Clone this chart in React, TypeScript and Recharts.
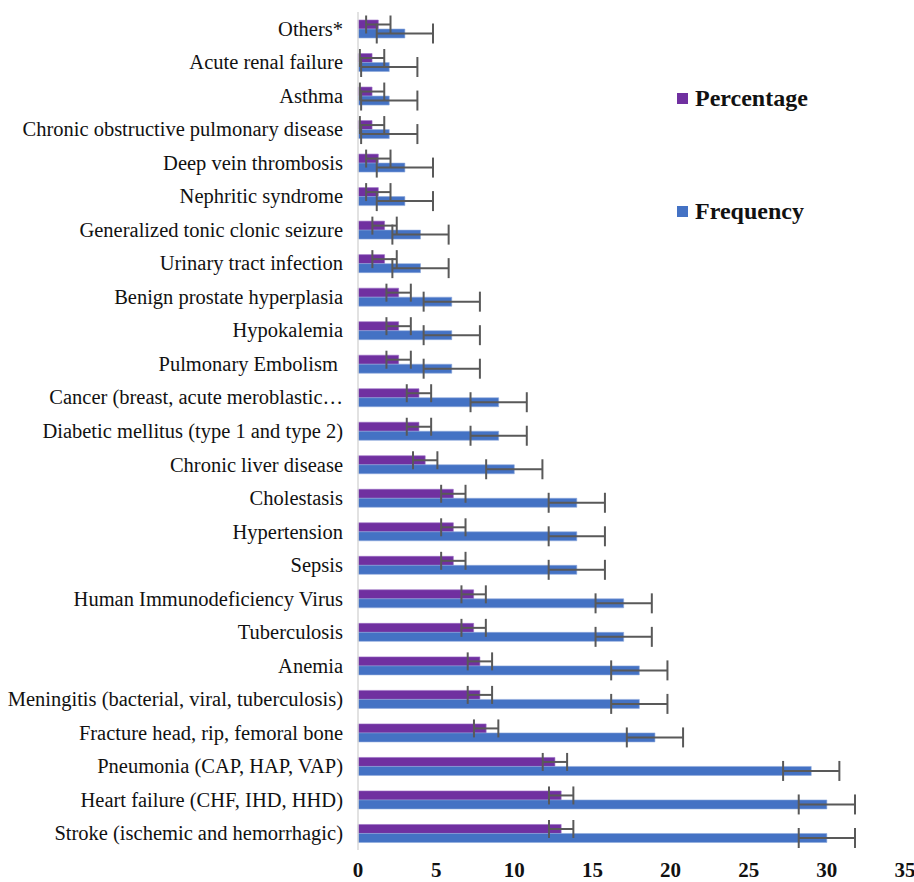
import React from 'react';
import { BarChart, Bar, XAxis, YAxis, ErrorBar, Legend } from 'recharts';

const CATEGORIES = [
  'Others*',
  'Acute renal failure',
  'Asthma',
  'Chronic obstructive pulmonary disease',
  'Deep vein thrombosis',
  'Nephritic syndrome',
  'Generalized tonic clonic seizure',
  'Urinary tract infection',
  'Benign prostate hyperplasia',
  'Hypokalemia',
  'Pulmonary Embolism\u00a0',
  'Cancer (breast, acute meroblastic\u2026',
  'Diabetic mellitus (type 1 and type 2)',
  'Chronic liver disease',
  'Cholestasis',
  'Hypertension',
  'Sepsis',
  'Human Immunodeficiency Virus',
  'Tuberculosis',
  'Anemia',
  'Meningitis (bacterial, viral, tuberculosis)',
  'Fracture head, rip, femoral bone',
  'Pneumonia (CAP, HAP, VAP)',
  'Heart failure (CHF, IHD, HHD)',
  'Stroke (ischemic and hemorrhagic)',
];

const PERCENTAGE = [1.3, 0.9, 0.9, 0.9, 1.3, 1.3, 1.7, 1.7, 2.6, 2.6, 2.6, 3.9, 3.9, 4.3, 6.1, 6.1, 6.1, 7.4, 7.4, 7.8, 7.8, 8.2, 12.6, 13.0, 13.0];
const FREQUENCY = [3, 2, 2, 2, 3, 3, 4, 4, 6, 6, 6, 9, 9, 10, 14, 14, 14, 17, 17, 18, 18, 19, 29, 30, 30];

// error bar sizes (same for every bar of a series)
const PCT_ERR = 0.78;
const FREQ_ERR = 1.8;

const X_TICKS = [0, 5, 10, 15, 20, 25, 30, 35];

const PURPLE = '#7030A0';
const BLUE = '#4472C4';
const SERIF = '"Liberation Serif", "Times New Roman", serif';

const data = CATEGORIES.map((name, i) => ({
  name,
  pct: PERCENTAGE[i],
  freq: FREQUENCY[i],
  pctErr: PCT_ERR,
  freqErr: FREQ_ERR,
}));

const YTick = ({ y, payload }: any) => (
  <text x={343} y={y} textAnchor="end" dominantBaseline="central" fontFamily={SERIF} fontSize={20.5} fill="#111">
    {payload.value}
  </text>
);

const XTick = ({ x, payload }: any) => (
  <text x={x} y={877} textAnchor="middle" fontFamily={SERIF} fontSize={21} fontWeight="bold" fill="#111">
    {payload.value}
  </text>
);

const LegendBox = () => (
  <div style={{ fontFamily: SERIF, fontWeight: 'bold', fontSize: 24, color: '#111' }}>
    <div style={{ display: 'flex', alignItems: 'center', height: 26 }}>
      <span style={{ width: 11, height: 11, background: PURPLE, marginRight: 7 }} />
      Percentage
    </div>
    <div style={{ display: 'flex', alignItems: 'center', height: 26, marginTop: 87 }}>
      <span style={{ width: 11, height: 11, background: BLUE, marginRight: 7 }} />
      Frequency
    </div>
  </div>
);

export default function App() {
  return (
    <div style={{ position: 'absolute', left: 0, top: 0, background: '#fff' }}>
      <BarChart
        width={914}
        height={882}
        data={data}
        layout="vertical"
        margin={{ top: 12, right: 9, bottom: 0, left: 0 }}
        barGap={0}
        barSize={9}
      >
        <XAxis
          type="number"
          domain={[0, 35]}
          ticks={X_TICKS}
          axisLine={false}
          tickLine={false}
          height={32}
          tick={<XTick />}
        />
        <YAxis
          type="category"
          dataKey="name"
          width={358}
          interval={0}
          tickLine={false}
          axisLine={{ stroke: '#d9d9d9', strokeWidth: 1.5 }}
          tick={<YTick />}
        />
        <Legend
          layout="horizontal"
          verticalAlign="middle"
          align="center"
          content={<LegendBox />}
          wrapperStyle={{ position: 'absolute', left: 677, top: 85, width: 200 }}
        />
        <Bar dataKey="pct" name="Percentage" fill={PURPLE} stroke="#9a6cc4" strokeWidth={0.6} isAnimationActive={false}>
          <ErrorBar dataKey="pctErr" direction="x" width={9} stroke="#595959" strokeWidth={2} />
        </Bar>
        <Bar dataKey="freq" name="Frequency" fill={BLUE} stroke="#8eaadc" strokeWidth={0.6} isAnimationActive={false}>
          <ErrorBar dataKey="freqErr" direction="x" width={10} stroke="#595959" strokeWidth={2} />
        </Bar>
      </BarChart>
    </div>
  );
}
